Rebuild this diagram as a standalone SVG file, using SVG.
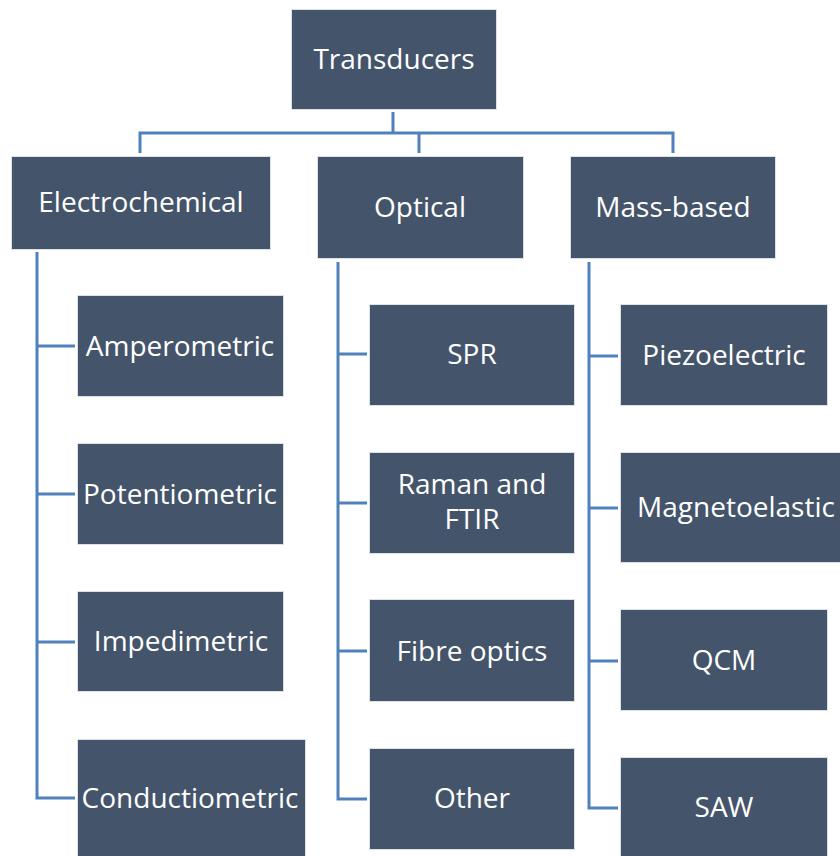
<svg xmlns="http://www.w3.org/2000/svg" width="840" height="856" viewBox="0 0 840 856">
  <style>
    .box { fill: #44546A; stroke: #DCE1E8; stroke-width: 1; }
    .lbl { font-family: "Open Sans", "DejaVu Sans", sans-serif; font-size: 28px; fill: #FFFFFF; text-anchor: middle; }
    .wire { fill: none; stroke: #4F81BD; stroke-width: 3; }
  </style>
  <rect width="840" height="856" fill="#FFFFFF"/>

  <!-- connectors -->
  <g id="connectors" class="wire">
    <path d="M393 112 V133"/>
    <path d="M140 153 V133 H673 V153"/>
    <path d="M419 133 V153"/>
    <!-- Electrochemical branch -->
    <path d="M37 252 V798 H75"/>
    <path d="M37 346 H75"/>
    <path d="M37 494 H75"/>
    <path d="M37 642 H75"/>
    <!-- Optical branch -->
    <path d="M338 262 V799 H367"/>
    <path d="M338 354 H367"/>
    <path d="M338 503 H367"/>
    <path d="M338 651 H367"/>
    <!-- Mass-based branch -->
    <path d="M589 262 V808 H618"/>
    <path d="M589 356 H618"/>
    <path d="M589 508 H618"/>
    <path d="M589 661 H618"/>
  </g>

  <g id="transducers">
    <rect class="box" x="291.5" y="9.5" width="205" height="100"/>
    <text class="lbl" x="394" y="69">Transducers</text>
  </g>

  <g id="electrochemical">
    <rect class="box" x="11.5" y="156.5" width="259" height="93"/>
    <text class="lbl" x="141" y="212">Electrochemical</text>
  </g>
  <g id="optical">
    <rect class="box" x="317.5" y="156.5" width="206" height="102"/>
    <text class="lbl" x="420" y="217">Optical</text>
  </g>
  <g id="mass-based">
    <rect class="box" x="570.5" y="156.5" width="205" height="102"/>
    <text class="lbl" x="673" y="217">Mass-based</text>
  </g>

  <g id="amperometric">
    <rect class="box" x="77.5" y="295.5" width="206" height="101"/>
    <text class="lbl" x="180" y="356">Amperometric</text>
  </g>
  <g id="potentiometric">
    <rect class="box" x="77.5" y="443.5" width="206" height="101"/>
    <text class="lbl" x="180" y="504">Potentiometric</text>
  </g>
  <g id="impedimetric">
    <rect class="box" x="77.5" y="591.5" width="206" height="100"/>
    <text class="lbl" x="181" y="651">Impedimetric</text>
  </g>
  <g id="conductiometric">
    <rect class="box" x="77.5" y="739.5" width="228" height="120"/>
    <text class="lbl" x="190" y="808">Conductiometric</text>
  </g>

  <g id="spr">
    <rect class="box" x="369.5" y="304.5" width="205" height="101"/>
    <text class="lbl" x="472" y="364">SPR</text>
  </g>
  <g id="raman-ftir">
    <rect class="box" x="369.5" y="452.5" width="205" height="101"/>
    <text class="lbl" x="472" y="494">Raman and</text>
    <text class="lbl" x="472" y="529">FTIR</text>
  </g>
  <g id="fibre-optics">
    <rect class="box" x="369.5" y="599.5" width="205" height="102"/>
    <text class="lbl" x="472" y="661">Fibre optics</text>
  </g>
  <g id="other">
    <rect class="box" x="369.5" y="748.5" width="205" height="101"/>
    <text class="lbl" x="472" y="808">Other</text>
  </g>

  <g id="piezoelectric">
    <rect class="box" x="620.5" y="304.5" width="207" height="101"/>
    <text class="lbl" x="724" y="365">Piezoelectric</text>
  </g>
  <g id="magnetoelastic">
    <rect class="box" x="620.5" y="452.5" width="223" height="110"/>
    <text class="lbl" x="736" y="517">Magnetoelastic</text>
  </g>
  <g id="qcm">
    <rect class="box" x="620.5" y="609.5" width="207" height="101"/>
    <text class="lbl" x="724" y="670">QCM</text>
  </g>
  <g id="saw">
    <rect class="box" x="620.5" y="757.5" width="207" height="110"/>
    <text class="lbl" x="724" y="817">SAW</text>
  </g>
</svg>
